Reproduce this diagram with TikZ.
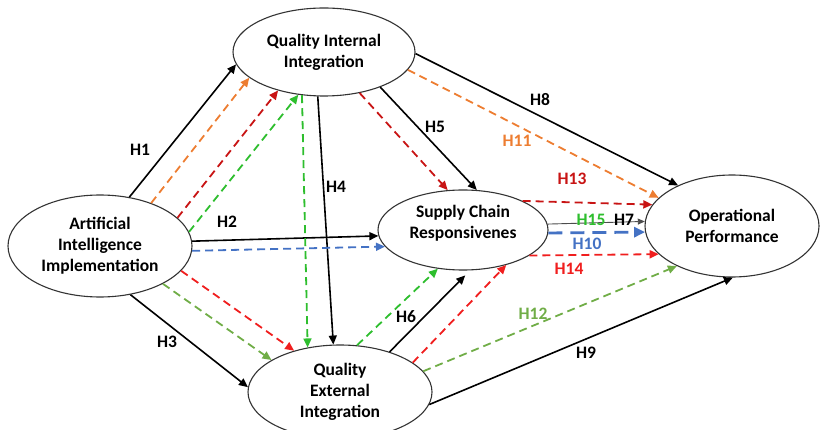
\documentclass[tikz,border=0pt]{standalone}
\usepackage{fontspec}
\setmainfont{Carlito}
\usepackage{tikz}
\usetikzlibrary{
    arrows.meta,
    shapes.geometric, % ellipse nodes
    positioning
}
\definecolor{hOrange}{HTML}{ED7D31}
\definecolor{hDarkRed}{HTML}{C81414}
\definecolor{hRed}{HTML}{F01E1E}
\definecolor{hGreen}{HTML}{2EBE2E}
\definecolor{hOlive}{HTML}{70AD47}
\definecolor{hBlue}{HTML}{4472C4}

\begin{document}
\begin{tikzpicture}[x=1pt,y=-1pt,
    construct/.style={ellipse,draw=black!80,line width=1.1pt,inner sep=0pt,
        align=center,font=\bfseries\fontsize{17.5}{21}\selectfont},
    hyp/.style={-{Triangle[length=9pt,width=8pt]},line width=1.6pt},
    med/.style={hyp,line width=1.8pt,dash pattern=on 8pt off 5pt},
    hlab/.style={font=\bfseries\fontsize{17.5}{21}\selectfont,inner sep=0pt}]
    \useasboundingbox (0,0) rectangle (821,430);
    \clip (0,0) rectangle (821,430);

    % constructs
    \node[construct,minimum width=184pt,minimum height=102pt] (ai)  at (100,246) {Artificial\\Intelligence\\Implementation};
    \node[construct,minimum width=182pt,minimum height=88pt]  (qii) at (324,52)  {Quality Internal\\Integration};
    \node[construct,minimum width=170pt,minimum height=80pt,text depth=17pt] (scr) at (463,230) {Supply Chain\\Responsivenes};
    \node[construct,minimum width=174pt,minimum height=102pt] (op)  at (732,226) {Operational\\Performance};
    \node[construct,minimum width=184pt,minimum height=94pt]  (qei) at (340,392) {Quality\\External\\Integration};

    % direct paths
    \draw[hyp] (ai.59)   -- (qii.188);
    \draw[hyp] (ai.3)    -- (scr.184);
    \draw[hyp] (ai.-58)  -- (qei.177);
    \draw[hyp] (qii.262) -- (qei.98);
    \draw[hyp] (qii.-32) -- (scr.71);
    \draw[hyp,shorten >=7pt] (qei.39) -- (scr.-80);
    \draw[hyp,line width=0.9pt,draw=black!70,-{Triangle[length=7pt,width=6pt]}] (scr.4) -- (op.177);
    \draw[hyp] (qii.-1)  -- (op.143);
    \draw[hyp] (qei.-8)  -- (op.-89);

    % mediated paths
    \draw[med,hOrange]  (ai.40)   -- (qii.199);
    \draw[med,hOrange]  (qii.-12) -- (op.159);
    \draw[med,hDarkRed] (ai.20)   -- (qii.220);
    \draw[med,hDarkRed] (qii.-49) -- (scr.111);
    \draw[med,hDarkRed] (scr.26)  -- (op.165);
    \draw[med,hGreen]   (ai.9)    -- (qii.239);
    \draw[med,hGreen]   (qii.243) -- (qei.126);
    \draw[med,hGreen]   (qei.70)  -- (scr.237);
    \draw[med,hBlue]    (ai.-3)   -- (scr.192);
    \draw[med,hBlue,line width=2.8pt,dash pattern=on 14pt off 8pt,
          -{Triangle[length=11pt,width=10pt]}] (scr.-2) -- (op.184);
    \draw[med,hRed]     (ai.-17)  -- (qei.138);
    \draw[med,hRed]     (qei.22)  -- (scr.-39);
    \draw[med,hRed]     (scr.-21) -- (op.201);
    \draw[med,hOlive]   (ai.-31)  -- (qei.155);
    \draw[med,hOlive]   (qei.14)  -- (op.216);

    % labels
    \node[hlab] (h1)  at (140,150) {H1};
    \node[hlab] (h2)  at (227,222) {H2};
    \node[hlab] (h3)  at (167,342) {H3};
    \node[hlab] (h4)  at (336,187) {H4};
    \node[hlab] (h5)  at (435,127) {H5};
    \node[hlab] (h6)  at (406,317) {H6};
    \node[hlab] (h7)  at (624,220) {H7};
    \node[hlab] (h8)  at (540,100) {H8};
    \node[hlab] (h9)  at (586,353) {H9};
    \node[hlab,hBlue]    (h10) at (587,244) {H10};
    \node[hlab,hOrange]  (h11) at (517,141) {H11};
    \node[hlab,hOlive]   (h12) at (533,314) {H12};
    \node[hlab,hDarkRed] (h13) at (572,179) {H13};
    \node[hlab,hRed]     (h14) at (569,269) {H14};
    \node[hlab,hGreen]   (h15) at (591,220) {H15};
\end{tikzpicture}
\end{document}
